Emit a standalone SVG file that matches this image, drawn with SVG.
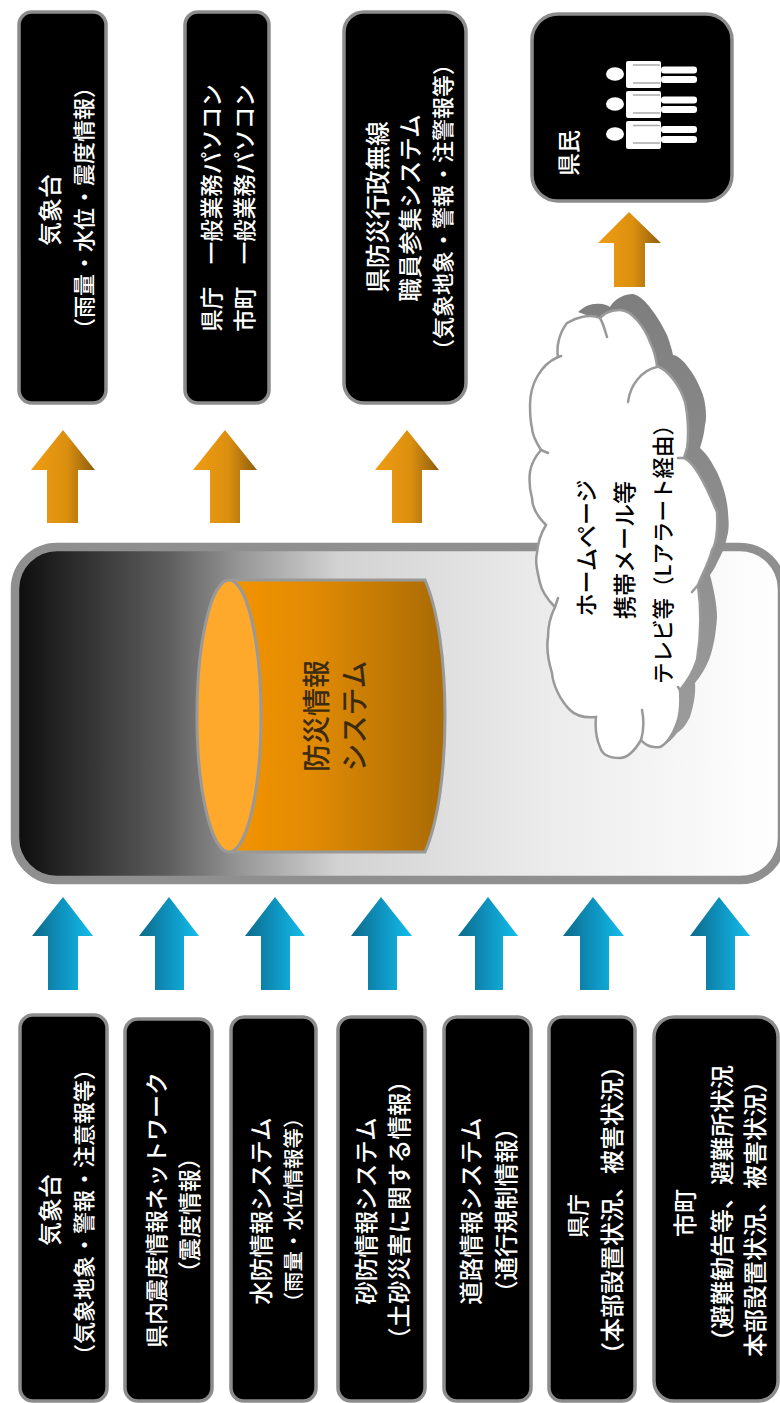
<svg xmlns="http://www.w3.org/2000/svg" width="780" height="1403" viewBox="0 0 780 1403">
<style>
text{font-family:"Noto Sans CJK JP","Noto Sans CJK SC",sans-serif;text-anchor:middle;dominant-baseline:central;font-weight:500}
.w{fill:#fff}
.k{fill:#000}
.box{fill:#000;stroke:#8c8c8c;stroke-width:3.5}
.o{fill:url(#go)}
.b{fill:url(#gb)}
.line{fill:none;stroke:#999;stroke-width:2.5;stroke-linecap:round}
.seam{stroke:#aaa;stroke-width:1.5}
</style>
<defs>
<linearGradient id="go" x1="0" x2="1" y1="0" y2="0"><stop offset="0" stop-color="#f09c12"/><stop offset=".55" stop-color="#dc900f"/><stop offset="1" stop-color="#8f5e0c"/></linearGradient>
<linearGradient id="gb" x1="0" x2="1" y1="0" y2="0"><stop offset="0" stop-color="#0d6a8a"/><stop offset=".5" stop-color="#0e93bf"/><stop offset="1" stop-color="#14bdea"/></linearGradient>
<linearGradient id="gc" x1="0" x2="1" y1="0" y2="0"><stop offset="0" stop-color="#0c0c0c"/><stop offset=".2" stop-color="#5e5e5e"/><stop offset=".3" stop-color="#9a9a9a"/><stop offset=".42" stop-color="#d2d2d2"/><stop offset=".7" stop-color="#ececec"/><stop offset="1" stop-color="#fff"/></linearGradient>
<linearGradient id="gy" x1="0" x2="1" y1="0" y2="0"><stop offset="0" stop-color="#f49400"/><stop offset=".4" stop-color="#e08a04"/><stop offset="1" stop-color="#a86a04"/></linearGradient>
<linearGradient id="gs" x1="0" x2="0" y1="0" y2="1"><stop offset="0" stop-color="#7e7e7e"/><stop offset="1" stop-color="#9c9c9c"/></linearGradient>
</defs>

<g id="connectors">
<path class="o" d="M63 430L95 470H78V523H47V470H31Z"/>
<path class="o" d="M225 430L257 470H240V523H210V470H193Z"/>
<path class="o" d="M407 430L439 470H422V523H392V470H375Z"/>
<path class="o" d="M629 212L661 243H645V287H614V243H598Z"/>
<path class="b" d="M63 897L93 936H78V990H48V936H32Z"/>
<path class="b" d="M169 897L199 936H184V990H155V936H139Z"/>
<path class="b" d="M275 897L305 936H290V990H261V936H245Z"/>
<path class="b" d="M381 897L412 936H397V990H368V936H351Z"/>
<path class="b" d="M488 897L518 936H503V990H475V936H458Z"/>
<path class="b" d="M593 897L624 936H609V990H580V936H563Z"/>
<path class="b" d="M719 897L750 936H735V990H706V936H690Z"/>
</g>

<g id="system">
<rect x="15" y="547" width="767" height="333" rx="42" fill="url(#gc)" stroke="#8f8f8f" stroke-width="8.5"/>
</g>

<g id="database">
<path d="M229 580H425C438 610 445 660 445 716C445 772 438 822 425 852H229Z" fill="url(#gy)" stroke="#999" stroke-width="3"/>
<ellipse cx="229" cy="716" rx="32" ry="136" fill="#ffa92c" stroke="#999" stroke-width="3"/>
<text fill="#3a2a10" font-size="28" transform="translate(315 716) rotate(-90)">防災情報</text>
<text fill="#3a2a10" font-size="28" transform="translate(353 716) rotate(-90)">システム</text>
</g>

<g id="cloud">
<path fill="url(#gs)" d="M578 312C585 306 590 304 595 304C602 303 607 305 610 307C615 298 625 294 633 294C645 296 660 320 667 335C670 343 672 350 673 355C680 355 695 372 703 395C706 405 707 418 705 425C704 435 702 442 700 448C708 455 712 463 717 472C723 485 727 498 728 512C729 525 729 530 727 537C725 548 720 557 717 563C715 568 712 572 710 575C714 590 717 605 717 617C716 635 713 648 710 657C706 668 700 677 695 683C696 695 693 708 690 717C686 725 682 730 677 733C672 740 668 743 663 745L640 720L600 320Z"/>
<path fill="#fff" stroke="#999" stroke-width="2.5" d="M530 405C530 385 540 365 558 357C556 345 560 332 567 323C575 318 590 313 600 318C605 312 612 310 620 310C632 310 645 328 650 342C654 350 656 358 657 366C668 370 680 385 685 402C688 415 689 435 687 448L684 458C695 462 708 490 717 512C718 530 716 545 712 550C708 565 703 572 698 585C700 600 702 630 697 660C693 672 687 682 680 690C681 705 680 715 677 723C672 737 665 745 660 747C652 748 645 745 641 740C635 750 628 758 620 758C610 758 602 755 600 747C596 738 595 728 596 717C585 718 576 716 570 710C560 700 553 685 552 673C548 660 546 650 548 637C548 625 551 615 555 607C548 600 542 592 540 583C537 570 535 562 537 553C538 542 541 533 546 525C538 517 532 508 532 498C529 487 529 480 530 472C531 465 534 458 541 450C536 442 532 435 532 428C530 420 530 412 530 405Z"/>
<path class="line" d="M600 318C603 323 605 330 607 337M628 402C630 385 642 370 657 367M642 710C644 720 644 730 641 740M558 357L561 356M541 450L548 453M555 607L558 598M684 458L678 458M698 585L692 592M680 690L678 687"/>
<text class="k" font-size="23" transform="translate(585 548) rotate(-90)">ホームページ</text>
<text class="k" font-size="23" transform="translate(623 550) rotate(-90)">携帯メール等</text>
<text class="k" font-size="21.5" transform="translate(661 549) rotate(-90)">テレビ等（Lアラート経由）</text>
</g>

<g id="out-kishodai">
<rect class="box" x="19" y="12" width="87" height="391" rx="13"/>
<text class="w" font-size="24" transform="translate(48 210) rotate(-90)">気象台</text>
<text class="w" font-size="22" transform="translate(82 208) rotate(-90)">（雨量・水位・震度情報）</text>
</g>
<g id="out-pc">
<rect class="box" x="185" y="12" width="84" height="391" rx="13"/>
<text class="w" font-size="22.5" transform="translate(210 208) rotate(-90)">県庁　一般業務パソコン</text>
<text class="w" font-size="22.5" transform="translate(243 208) rotate(-90)">市町　一般業務パソコン</text>
</g>
<g id="out-musen">
<rect class="box" x="344" y="12" width="122" height="391" rx="20"/>
<text class="w" font-size="24.5" transform="translate(376 207) rotate(-90)">県防災行政無線</text>
<text class="w" font-size="23.5" transform="translate(409 208) rotate(-90)">職員参集システム</text>
<text class="w" font-size="22" transform="translate(441 207) rotate(-90)">（気象地象・警報・注警報等）</text>
</g>
<g id="out-kenmin">
<rect class="box" x="532" y="14" width="200" height="187" rx="26"/>
<text class="w" font-size="23" transform="translate(567 153) rotate(-90)">県民</text>
<g fill="#fff">
<ellipse cx="615" cy="74" rx="9" ry="6.7"/><ellipse cx="615" cy="104" rx="9" ry="6.7"/><ellipse cx="615" cy="134" rx="9" ry="6.7"/>
<rect x="626" y="61" width="35" height="27" rx="2"/><rect x="626" y="91" width="35" height="27" rx="2"/><rect x="626" y="121" width="35" height="28" rx="2"/>
<rect x="661" y="66.500" width="36" height="7" rx="3"/><rect x="661" y="76" width="36" height="7" rx="3"/>
<rect x="661" y="96.500" width="36" height="7" rx="3"/><rect x="661" y="106" width="36" height="7" rx="3"/>
<rect x="661" y="126" width="36" height="7" rx="3"/><rect x="661" y="136" width="36" height="7" rx="3"/>
</g>
<path class="seam" d="M633 65H660M633 83H660M633 95H660M633 113H660M633 125.500H660M633 143H660"/>
</g>

<g id="in-kishodai">
<rect class="box" x="20" y="1015" width="87" height="386" rx="13"/>
<text class="w" font-size="24" transform="translate(48 1210) rotate(-90)">気象台</text>
<text class="w" font-size="22" transform="translate(82 1212) rotate(-90)">（気象地象・警報・注意報等）</text>
</g>
<g id="in-shindo">
<rect class="box" x="125" y="1019" width="87" height="382" rx="13"/>
<text class="w" font-size="23" transform="translate(155 1210) rotate(-90)">県内震度情報ネットワーク</text>
<text class="w" font-size="23" transform="translate(188 1215) rotate(-90)">（震度情報）</text>
</g>
<g id="in-suibo">
<rect class="box" x="231" y="1017" width="85" height="384" rx="13"/>
<text class="w" font-size="23.5" transform="translate(260 1211) rotate(-90)">水防情報システム</text>
<text class="w" font-size="20.5" transform="translate(292 1210) rotate(-90)">（雨量・水位情報等）</text>
</g>
<g id="in-sabo">
<rect class="box" x="338" y="1017" width="87" height="384" rx="13"/>
<text class="w" font-size="23.5" transform="translate(365 1211) rotate(-90)">砂防情報システム</text>
<text class="w" font-size="23.5" transform="translate(398 1210) rotate(-90)">（土砂災害に関する情報）</text>
</g>
<g id="in-doro">
<rect class="box" x="444" y="1017" width="87" height="384" rx="13"/>
<text class="w" font-size="23.5" transform="translate(470 1211) rotate(-90)">道路情報システム</text>
<text class="w" font-size="23.5" transform="translate(505 1210) rotate(-90)">（通行規制情報）</text>
</g>
<g id="in-kencho">
<rect class="box" x="549" y="1017" width="86" height="384" rx="13"/>
<text class="w" font-size="22" transform="translate(576 1216) rotate(-90)">県庁</text>
<text class="w" font-size="24" transform="translate(610 1210) rotate(-90)">（本部設置状況、被害状況）</text>
</g>
<g id="in-shicho">
<rect class="box" x="654" y="1017" width="124" height="384" rx="20"/>
<text class="w" font-size="24" transform="translate(683 1213) rotate(-90)">市町</text>
<text class="w" font-size="24" transform="translate(720 1209) rotate(-90)">（避難勧告等、避難所状況</text>
<text class="w" font-size="24" transform="translate(753 1213) rotate(-90)">本部設置状況、被害状況）</text>
</g>
</svg>
